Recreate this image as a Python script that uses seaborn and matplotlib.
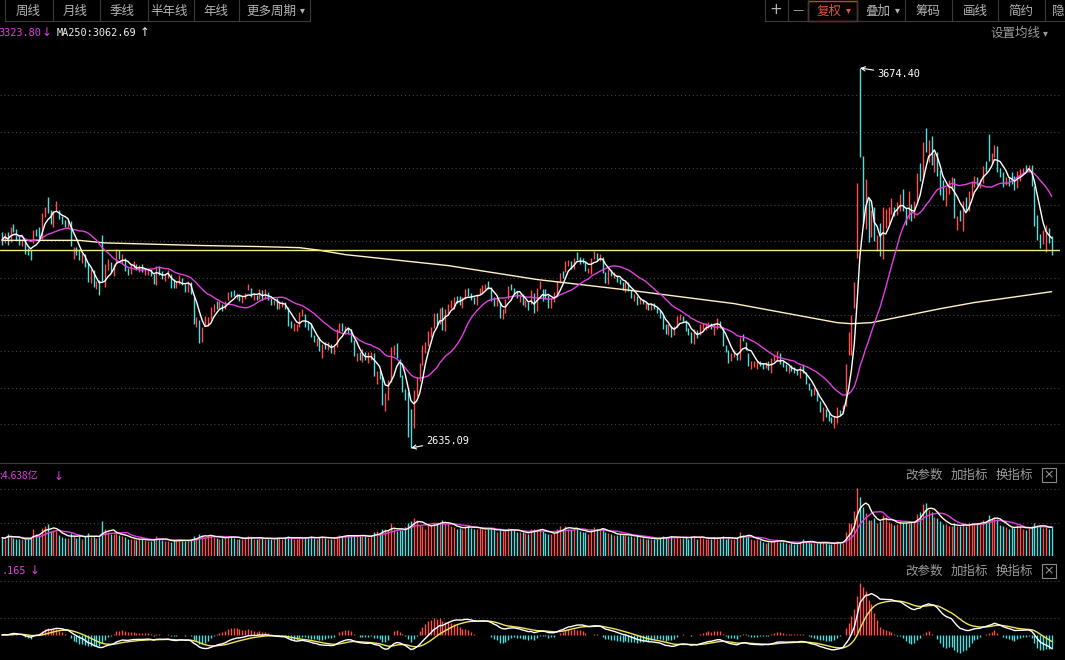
import numpy as np
import pandas as pd
import matplotlib
matplotlib.use("Agg")
import matplotlib.pyplot as plt
import seaborn as sns
from matplotlib.patches import Rectangle

sns.set_theme(style="dark")
plt.rcParams['font.family'] = ['Noto Sans CJK SC', 'DejaVu Sans']
plt.rcParams['axes.unicode_minus'] = False

# ---------------- data (daily bars, 2023-07-10 .. 2025-01-10) ----------------
closes = [
    3204, 3221, 3196, 3237, 3237, 3209, 3198, 3199, 3169, 3168, 3164, 3231, 3223, 3216, 3276, 3291,
    3290, 3262, 3281, 3288, 3268, 3260, 3244, 3254, 3189, 3178, 3176, 3150, 3163, 3132, 3092, 3120, 3078, 3082, 3064, 3098, 3135, 3137, 3119,
    3133, 3177, 3154, 3158, 3122, 3117, 3137, 3138, 3123, 3126, 3117, 3125, 3124, 3108, 3084, 3132, 3115, 3103, 3107, 3110,
    3076, 3075, 3078, 3107, 3088, 3074, 3084, 3058, 2977, 2984, 2940, 2962, 2974, 2988, 3017, 3022, 3019,
    3023, 3010, 3031, 3059, 3058, 3052, 3053, 3039, 3047, 3057, 3072, 3050, 3054, 3043, 3068, 3043, 3062, 3041, 3031, 3038, 3021, 3030,
    3031, 3023, 2972, 2966, 2969, 2970, 3003, 3003, 2968, 2958, 2942, 2930, 2932, 2902, 2918, 2914, 2919, 2898, 2914, 2954, 2975,
    2962, 2967, 2955, 2929, 2887, 2893, 2877, 2886, 2882, 2886, 2894, 2834, 2845, 2832, 2756, 2771, 2820, 2906, 2910, 2883, 2831, 2789, 2770, 2730,
    2702, 2789, 2829, 2866, 2910, 2923, 2951, 2964, 3004, 2977, 3016, 2957, 3015,
    3027, 3039, 3048, 3040, 3027, 3046, 3068, 3055, 3043, 3038, 3054, 3073, 3079, 3080, 3077, 3048, 3026, 3032, 2993, 3011, 3041,
    3077, 3074, 3069, 3047, 3048, 3027, 3034, 3019, 3057, 3007, 3071, 3074, 3065, 3045, 3021, 3044, 3052, 3088, 3113, 3105,
    3140, 3147, 3128, 3154, 3154, 3148, 3145, 3119, 3122, 3154, 3171, 3157, 3158, 3116, 3088, 3124, 3109, 3111, 3091, 3087,
    3078, 3091, 3065, 3049, 3051, 3028, 3037, 3029, 3033, 3015, 3030, 3018, 3008, 2998, 2963, 2950, 2972, 2946, 2967,
    2995, 2998, 2982, 2957, 2950, 2923, 2959, 2939, 2970, 2971, 2974, 2977, 2963, 2977, 2982, 2964, 2915, 2901, 2887, 2890, 2891, 2879, 2939,
    2932, 2905, 2860, 2867, 2869, 2870, 2862, 2858, 2868, 2850, 2877, 2879, 2893, 2867, 2857, 2848, 2855, 2849, 2848, 2837, 2859, 2842,
    2811, 2802, 2784, 2789, 2765, 2736, 2744, 2721, 2717, 2704, 2717, 2736, 2736, 2748, 2863, 2897, 3000, 3088, 3336, 3490,
    3258, 3301, 3217, 3284, 3202, 3202, 3169, 3261, 3268, 3286, 3302, 3280, 3300, 3322, 3286, 3266, 3279,
    3272, 3310, 3387, 3383, 3470, 3452, 3470, 3421, 3439, 3379, 3331, 3324, 3346, 3368, 3370, 3267, 3263, 3259, 3309, 3295, 3326,
    3364, 3379, 3364, 3368, 3404, 3402, 3422, 3432, 3461, 3392, 3386, 3362, 3370, 3370, 3368, 3352, 3394, 3394, 3399, 3400, 3407, 3352,
    3262, 3211, 3206, 3230, 3230, 3211, 3169,
]
highs = [
    3227, 3222, 3225, 3240, 3249, 3233, 3214, 3208, 3200, 3183, 3176, 3232, 3235, 3240, 3279, 3293,
    3322, 3287, 3282, 3312, 3285, 3270, 3260, 3262, 3255, 3184, 3185, 3178, 3168, 3166, 3141, 3124, 3122, 3093, 3095, 3219, 3137, 3153, 3143,
    3138, 3178, 3176, 3166, 3155, 3128, 3139, 3146, 3137, 3136, 3139, 3128, 3127, 3125, 3110, 3133, 3133, 3120, 3111, 3121,
    3111, 3096, 3092, 3107, 3100, 3085, 3092, 3090, 3049, 2993, 2985, 2966, 2996, 2994, 3022, 3029, 3037,
    3037, 3028, 3036, 3062, 3065, 3066, 3060, 3057, 3050, 3060, 3085, 3073, 3059, 3054, 3071, 3066, 3069, 3063, 3046, 3041, 3045, 3036,
    3036, 3034, 3021, 2983, 2976, 2973, 3006, 3014, 3002, 2980, 2976, 2945, 2935, 2938, 2920, 2926, 2924, 2920, 2915, 2960, 2977,
    2976, 2968, 2966, 2960, 2931, 2896, 2897, 2905, 2898, 2899, 2897, 2895, 2846, 2848, 2832, 2785, 2822, 2910, 2918, 2921, 2879, 2835, 2796, 2789,
    2741, 2794, 2830, 2868, 2916, 2924, 2955, 2965, 3005, 3005, 3017, 3022, 3016,
    3028, 3041, 3049, 3050, 3050, 3048, 3069, 3074, 3060, 3049, 3055, 3074, 3080, 3085, 3091, 3076, 3047, 3043, 3034, 3016, 3042,
    3078, 3083, 3074, 3065, 3055, 3056, 3041, 3034, 3068, 3060, 3072, 3093, 3070, 3071, 3053, 3046, 3062, 3093, 3114, 3118,
    3146, 3149, 3147, 3156, 3172, 3158, 3154, 3144, 3128, 3156, 3175, 3169, 3165, 3158, 3116, 3125, 3123, 3116, 3106, 3098,
    3090, 3092, 3089, 3068, 3057, 3052, 3044, 3043, 3036, 3033, 3032, 3031, 3022, 3012, 3000, 2974, 2974, 2970, 2969,
    2996, 3002, 2996, 2984, 2962, 2953, 2960, 2958, 2973, 2976, 2978, 2980, 2977, 2978, 2990, 2983, 2967, 2918, 2902, 2894, 2903, 2895, 2939,
    2946, 2925, 2895, 2872, 2874, 2874, 2874, 2868, 2869, 2872, 2880, 2889, 2901, 2895, 2872, 2865, 2860, 2863, 2857, 2849, 2860, 2866,
    2842, 2813, 2796, 2798, 2795, 2763, 2746, 2743, 2730, 2720, 2722, 2746, 2739, 2752, 2866, 2952, 3000, 3088, 3359, 3674.4,
    3433, 3372, 3315, 3285, 3294, 3219, 3250, 3294, 3289, 3295, 3319, 3295, 3309, 3329, 3344, 3292, 3337,
    3303, 3311, 3388, 3414, 3471, 3509, 3478, 3488, 3441, 3445, 3396, 3367, 3350, 3369, 3376, 3374, 3269, 3287, 3310, 3322, 3337,
    3366, 3379, 3377, 3370, 3406, 3419, 3495, 3443, 3464, 3460, 3400, 3389, 3377, 3375, 3389, 3379, 3394, 3398, 3400, 3410, 3408, 3410,
    3351, 3273, 3220, 3231, 3244, 3236, 3216,
]
lows = [
    3191, 3197, 3190, 3198, 3227, 3204, 3190, 3187, 3166, 3162, 3150, 3195, 3215, 3210, 3208, 3268,
    3279, 3248, 3240, 3282, 3261, 3247, 3240, 3236, 3188, 3153, 3164, 3148, 3141, 3130, 3090, 3087, 3075, 3069, 3053, 3092, 3075, 3122, 3116,
    3106, 3140, 3152, 3141, 3120, 3107, 3110, 3128, 3121, 3117, 3116, 3109, 3108, 3105, 3083, 3082, 3109, 3097, 3092, 3099,
    3074, 3074, 3074, 3085, 3082, 3062, 3063, 3055, 2975, 2967, 2923, 2924, 2969, 2970, 2987, 3007, 3014,
    3014, 3009, 3016, 3039, 3049, 3050, 3042, 3037, 3033, 3043, 3068, 3048, 3040, 3040, 3042, 3041, 3042, 3040, 3026, 3027, 3016, 3014,
    3020, 3014, 2968, 2963, 2954, 2954, 2966, 2996, 2967, 2958, 2940, 2926, 2914, 2900, 2882, 2906, 2904, 2894, 2892, 2912, 2952,
    2955, 2946, 2949, 2926, 2886, 2874, 2875, 2869, 2876, 2868, 2875, 2833, 2810, 2823, 2752, 2736, 2766, 2816, 2890, 2881, 2829, 2787, 2766, 2666,
    2635.09, 2691, 2777, 2819, 2862, 2896, 2915, 2940, 2964, 2972, 2973, 2957, 2955,
    3005, 3018, 3016, 3031, 3026, 3019, 3042, 3051, 3041, 3030, 3025, 3055, 3058, 3070, 3071, 3038, 3024, 3023, 2992, 2987, 3003,
    3042, 3067, 3056, 3045, 3034, 3026, 3021, 3013, 3030, 3005, 3009, 3069, 3036, 3043, 3017, 3019, 3034, 3051, 3087, 3100,
    3116, 3133, 3125, 3124, 3148, 3138, 3140, 3118, 3113, 3111, 3152, 3150, 3147, 3115, 3086, 3085, 3105, 3099, 3089, 3084,
    3068, 3063, 3064, 3046, 3036, 3026, 3028, 3028, 3014, 3013, 3012, 3014, 3005, 2991, 2961, 2947, 2945, 2939, 2943,
    2965, 2985, 2980, 2956, 2943, 2922, 2920, 2937, 2944, 2960, 2958, 2962, 2960, 2945, 2960, 2962, 2914, 2899, 2868, 2872, 2885, 2877, 2875,
    2927, 2904, 2859, 2850, 2856, 2852, 2860, 2850, 2853, 2849, 2841, 2872, 2874, 2865, 2856, 2845, 2839, 2845, 2839, 2834, 2827, 2840,
    2810, 2795, 2778, 2781, 2764, 2733, 2709, 2719, 2710, 2703, 2690, 2703, 2724, 2732, 2750, 2889, 2889, 3017, 3155, 3432,
    3250, 3234, 3198, 3212, 3201, 3173, 3160, 3152, 3236, 3249, 3275, 3270, 3271, 3282, 3282, 3245, 3261,
    3255, 3263, 3312, 3366, 3373, 3446, 3417, 3410, 3391, 3378, 3326, 3314, 3298, 3331, 3343, 3265, 3232, 3257, 3228, 3287, 3282,
    3325, 3350, 3355, 3345, 3360, 3389, 3420, 3413, 3430, 3390, 3375, 3350, 3355, 3351, 3358, 3341, 3345, 3366, 3386, 3390, 3390, 3351,
    3242, 3205, 3181, 3194, 3171, 3195, 3163,
]
# r = up (red), g = down (cyan)
directions = (
    "grgrgggrgggrggrr" "ggrrgggrgrggrggrgrggrrg" "rrgrggrrgrgrrggrggrr" "ggrrggrggrgrrrrrg"
    "rgrrggrgrrrgrgrgrggrgr" "rgggrrrrggggrgrgrgrrr" "grgggrgrgrrgrggrrrrggggg" "grrrrrrrrgrgr"
    "rrrggrrgggrrrrgggrgrr" "rgggrgrgrgrrgggrrrrg" "rrgrggggrrrgrggrgrgg" "grggrgrgrgrgggggrgr"
    "rrggggrgrrrrgrrggggrrgr" "gggrrrggrgrrrgggrgggrg" "gggrggrgggrrgrrrrrrg" "grgrgrgrrrrgrrggr"
    "grrgrgrgrgggrrrgrgrgr" "rrgrrggrrgggrgggrrrgrg" "gggrrgg"
)
volumes = [
    2.4, 2.3, 2.9, 2.7, 2.4, 2.3, 2.2, 2.3, 2.2, 2.3, 2.4, 3.6, 2.9, 2.7, 3.7, 3.9,
    4.2, 3.3, 3.4, 3.3, 2.8, 2.5, 2.4, 2.4, 3.0, 2.8, 2.4, 2.6, 2.3, 2.6, 3.0, 2.5, 2.5, 2.4, 2.5, 4.6, 3.6, 3.2, 2.9,
    2.9, 3.1, 2.8, 2.6, 2.5, 2.3, 2.3, 2.2, 2.1, 2.2, 2.3, 2.1, 2.0, 2.0, 2.2, 2.6, 2.3, 2.1, 2.0, 2.0,
    1.9, 2.1, 2.0, 2.2, 2.0, 2.0, 2.1, 2.1, 2.7, 2.4, 2.9, 2.8, 2.5, 2.6, 2.8, 2.5, 2.4,
    2.3, 2.4, 2.4, 2.7, 2.6, 2.4, 2.3, 2.3, 2.2, 2.3, 2.6, 2.5, 2.3, 2.3, 2.4, 2.4, 2.2, 2.3, 2.3, 2.2, 2.5, 2.4,
    2.3, 2.4, 2.6, 2.4, 2.3, 2.3, 2.5, 2.4, 2.4, 2.4, 2.6, 2.4, 2.3, 2.5, 2.6, 2.4, 2.3, 2.2, 2.3, 2.7, 2.8,
    2.7, 2.6, 2.6, 2.7, 2.8, 2.7, 2.6, 2.7, 2.6, 2.5, 2.6, 3.1, 3.3, 2.9, 3.6, 3.5, 3.4, 4.3, 3.5, 3.3, 3.4, 3.4, 3.8, 4.3,
    4.6, 5.0, 4.7, 4.1, 4.0, 3.6, 4.1, 4.1, 4.4, 4.3, 4.4, 4.8, 4.2,
    4.2, 4.0, 3.8, 3.6, 3.7, 3.6, 4.0, 4.1, 3.7, 3.6, 3.6, 3.7, 3.6, 3.4, 3.6, 3.6, 3.5, 3.2, 3.4, 3.3, 3.3,
    3.7, 3.5, 3.4, 3.2, 3.1, 3.1, 3.0, 2.9, 3.6, 3.5, 3.5, 3.6, 3.3, 3.0, 2.9, 2.9, 3.0, 3.5, 3.9, 3.6,
    4.0, 3.6, 3.4, 3.6, 3.7, 3.3, 3.1, 3.1, 2.9, 3.6, 3.8, 3.5, 3.4, 3.7, 3.2, 3.0, 2.9, 2.8, 2.8, 2.9,
    2.8, 2.8, 2.7, 2.6, 2.5, 2.6, 2.4, 2.4, 2.3, 2.3, 2.3, 2.3, 2.2, 2.4, 2.6, 2.5, 2.5, 2.6, 2.4,
    2.5, 2.4, 2.4, 2.5, 2.3, 2.6, 2.7, 2.3, 2.5, 2.4, 2.2, 2.3, 2.3, 2.5, 2.3, 2.4, 2.6, 2.3, 2.5, 2.2, 2.2, 2.4, 3.2,
    2.8, 2.5, 2.7, 2.2, 2.1, 2.2, 2.1, 1.8, 1.7, 1.8, 2.0, 2.1, 2.2, 1.9, 1.8, 1.7, 1.6, 1.7, 1.6, 1.6, 1.9, 2.3,
    1.9, 1.8, 1.7, 1.7, 1.7, 1.8, 1.8, 1.7, 1.6, 1.6, 1.7, 2.0, 1.9, 1.7, 3.2, 4.3, 4.3, 5.9, 9.0, 7.8,
    6.5, 5.7, 4.7, 4.8, 5.0, 4.4, 4.6, 5.4, 5.1, 4.5, 4.4, 4.1, 4.2, 4.6, 4.4, 4.4, 4.3,
    4.5, 4.6, 5.6, 5.8, 6.8, 7.0, 6.1, 5.8, 5.2, 5.0, 4.6, 4.2, 4.2, 4.0, 3.9, 4.4, 3.9, 3.9, 4.3, 3.9, 4.3,
    4.4, 4.2, 4.3, 4.2, 4.8, 4.6, 5.4, 4.9, 5.2, 4.9, 4.1, 3.9, 3.8, 3.6, 3.8, 3.7, 4.1, 3.9, 3.6, 3.4, 3.7, 3.9,
    4.3, 4.1, 3.9, 3.7, 3.8, 3.6, 3.9,
]
# MA250 at a set of bar positions
ma250_bar = [0, 27, 36, 69, 90, 104, 111, 120, 144, 156, 187, 220, 256, 292, 297, 304, 316, 328, 340, 352, 367]
ma250_val = [3203, 3203, 3196, 3189, 3186, 3183, 3176, 3164, 3144, 3134, 3096, 3066, 3030, 2978, 2975, 2978, 2997, 3016, 3033, 3046, 3062.69]
hline_level = 3177
grid_levels = [2700, 2800, 2900, 3000, 3100, 3200, 3300, 3400, 3500, 3600]
left_tabs = ["周线", "月线", "季线", "半年线", "年线", "更多周期"]
right_tabs = ["复权", "叠加", "筹码", "画线", "简约", "隐"]
panel_buttons = ["改参数", "加指标", "换指标"]
ma20_label, ma250_label = "3323.80", "MA250:3062.69"
vol_label, macd_label = ":4.638亿", ".165"

n = len(closes)
assert len(highs) == n and len(lows) == n and len(directions) == n and len(volumes) == n, (n, len(highs), len(lows), len(directions), len(volumes))

# ---------------- derived indicators ----------------
idx = np.arange(n)
s = pd.Series(closes, dtype=float)
ma5 = s.rolling(5, min_periods=1).mean()
ma20 = s.rolling(20, min_periods=1).mean()
vs = pd.Series(volumes, dtype=float)
vma5 = vs.rolling(5, min_periods=1).mean()
vma10 = vs.rolling(10, min_periods=1).mean()
ema12 = s.ewm(span=12, adjust=False).mean()
ema26 = s.ewm(span=26, adjust=False).mean()
dif = ema12 - ema26
dea = dif.ewm(span=9, adjust=False).mean()
hist = 2 * (dif - dea)

UP, DN = '#ff4f4f', '#4fdede'
bar_cols = [UP if d == 'r' else DN for d in directions]

# ---------------- figure / pixel helpers ----------------
W, H = 1065, 660
fig = plt.figure(figsize=(W / 100, H / 100), dpi=100, facecolor='black')
ov = fig.add_axes([0, 0, 1, 1])
ov.set_xlim(0, W)
ov.set_ylim(H, 0)
ov.set_axis_off()

GRID = '#444444'
SEP = '#3a3a3a'
TXT = '#b4b4b4'


def hl(y, x0=0, x1=1060, color=GRID, ls=(0, (1, 2.5)), lw=0.8):
    ov.plot([x0, x1], [y, y], color=color, lw=lw, ls=ls)


def vl(x, y0, y1, color=SEP, lw=0.8):
    ov.plot([x, x], [y0, y1], color=color, lw=lw)


# toolbar
for x in [5, 53, 100, 148, 194, 239, 310]:
    vl(x, 0, 21)
hl(21, 5, 310, color=SEP, ls='-')
for x in [765, 788, 808, 857, 905, 952, 998, 1045]:
    vl(x, 0, 21)
hl(21, 765, 1065, color=SEP, ls='-')
ov.add_patch(Rectangle((808, 0.5), 49, 20.5, fill=False, edgecolor='#c2452e', lw=1.0))
for lab, xc in zip(left_tabs, [28, 75, 122, 169, 216, 271]):
    ov.text(xc, 11, lab, color=TXT, fontsize=9, ha='center', va='center')
ov.text(302, 10, '▾', color=TXT, fontsize=7, ha='center', va='center', family=['DejaVu Sans'])
ov.text(776, 10, '+', color=TXT, fontsize=11, ha='center', va='center', family=['DejaVu Sans'])
ov.text(798, 10, '—', color=TXT, fontsize=8, ha='center', va='center', family=['DejaVu Sans'])
for lab, xc in zip(right_tabs, [829.5, 878, 928, 975, 1021, 1058]):
    ov.text(xc, 11, lab, color='#e0583c' if lab == '复权' else TXT, fontsize=9, ha='center', va='center')
ov.text(848, 10, '▾', color='#e0583c', fontsize=7, ha='center', va='center', family=['DejaVu Sans'])
ov.text(897, 10, '▾', color=TXT, fontsize=7, ha='center', va='center', family=['DejaVu Sans'])
ov.text(1015, 33, '设置均线', color='#9a9a9a', fontsize=9, ha='center', va='center')
ov.text(1045, 33, '▾', color='#9a9a9a', fontsize=7, ha='center', va='center', family=['DejaVu Sans'])

# legend row of the main chart
MAG = '#e040e0'
ov.text(-2, 33, ma20_label, color=MAG, fontsize=7.4, ha='left', va='center', family=['DejaVu Sans Mono'])
ov.text(47, 33, '↓', color=MAG, fontsize=8.5, ha='center', va='center', family=['DejaVu Sans'])
ov.text(57, 33, ma250_label, color='#f0f0f0', fontsize=7.4, ha='left', va='center', family=['DejaVu Sans Mono'])
ov.text(145, 33, '↑', color='#f0f0f0', fontsize=8.5, ha='center', va='center', family=['DejaVu Sans'])

# panel separators, headers, grid
hl(463, 0, 1065, color=SEP, ls='-')
for ytxt in (475, 571):
    for lab, xc in zip(panel_buttons, [924, 969, 1014]):
        ov.text(xc, ytxt, lab, color='#9a9a9a', fontsize=9, ha='center', va='center')
    ov.add_patch(Rectangle((1042, ytxt - 7.5), 14, 14, fill=False, edgecolor='#8a8a8a', lw=0.8))
    ov.text(1049, ytxt - 0.5, '×', color='#9a9a9a', fontsize=9, ha='center', va='center', family=['DejaVu Sans'])
ov.text(-1, 476, vol_label, color=MAG, fontsize=7.4, ha='left', va='center', family=['Noto Sans CJK SC', 'DejaVu Sans Mono'])
ov.text(59, 476, '↓', color=MAG, fontsize=8.5, ha='center', va='center', family=['DejaVu Sans'])
ov.text(2, 571, macd_label, color=MAG, fontsize=7.4, ha='left', va='center', family=['DejaVu Sans Mono'])
ov.text(35, 571, '↓', color=MAG, fontsize=8.5, ha='center', va='center', family=['DejaVu Sans'])
for y in (489, 523, 581, 618):
    hl(y)

# ---------------- main price panel ----------------
X0, XS = 2.0, 2.86            # pixel x of bar 0 and pixel step per bar
PX_PER_PT = (448 - 68) / (3674.4 - 2635.09)


def price_at(ypx):
    return 3674.4 - (ypx - 68) / PX_PER_PT


def ax_at(y_top, y_bot):
    a = fig.add_axes([0, 1 - y_bot / H, 1060 / W, (y_bot - y_top) / H])
    a.set_facecolor('none')
    a.set_xlim(-X0 / XS, (1060 - X0) / XS)
    a.set_axis_off()
    return a


ax = ax_at(45, 462)
ax.set_ylim(price_at(462), price_at(45))
for lv in grid_levels:
    ax.axhline(lv, color=GRID, lw=0.8, ls=(0, (1, 2.5)), zorder=0)
ax.vlines(idx, lows, highs, colors=bar_cols, lw=1.0, zorder=2)
sns.lineplot(x=ma250_bar, y=ma250_val, ax=ax, color='#fff3c4', lw=1.0, legend=False, zorder=3)
ax.axhline(hline_level, color='#f4ee80', lw=1.0, zorder=3)
sns.lineplot(x=idx, y=ma20.values, ax=ax, color=MAG, lw=1.0, legend=False, zorder=4)
sns.lineplot(x=idx, y=ma5.values, ax=ax, color='white', lw=1.0, legend=False, zorder=5)

i_hi = int(np.argmax(highs))
i_lo = int(np.argmin(lows))
ax.annotate(f"{highs[i_hi]:.2f}", xy=(i_hi, highs[i_hi]), xytext=(17, -6), textcoords='offset pixels',
            color='white', fontsize=7.4, family=['DejaVu Sans Mono'], ha='left', va='center',
            arrowprops=dict(arrowstyle='->', color='white', lw=0.8, shrinkA=0, shrinkB=0))
ax.annotate(f"{lows[i_lo]:.2f}", xy=(i_lo, lows[i_lo]), xytext=(15, 7), textcoords='offset pixels',
            color='white', fontsize=7.4, family=['DejaVu Sans Mono'], ha='left', va='center',
            arrowprops=dict(arrowstyle='->', color='white', lw=0.8, shrinkA=0, shrinkB=0))

# ---------------- volume panel ----------------
vax = ax_at(465, 556)
vax.set_ylim(0, 12.0)
vax.vlines(idx, 0, volumes, colors=bar_cols, lw=1.0, zorder=2)
sns.lineplot(x=idx, y=vma10.values, ax=vax, color=MAG, lw=1.0, legend=False, zorder=3)
sns.lineplot(x=idx, y=vma5.values, ax=vax, color='#fffbe0', lw=1.0, legend=False, zorder=4)

# ---------------- MACD panel ----------------
mx = ax_at(560, 655)
unit = float(hist.max()) / 52.0
mx.set_ylim(-(655 - 635) * unit, (635 - 560) * unit)
hcols = [UP if h >= 0 else DN for h in hist]
mx.vlines(idx, 0, hist.values, colors=hcols, lw=1.0, zorder=2)
sns.lineplot(x=idx, y=dea.values, ax=mx, color='#f0e45a', lw=1.0, legend=False, zorder=3)
sns.lineplot(x=idx, y=dif.values, ax=mx, color='white', lw=1.0, legend=False, zorder=4)

fig.savefig('out.png', dpi=100, facecolor='black')
